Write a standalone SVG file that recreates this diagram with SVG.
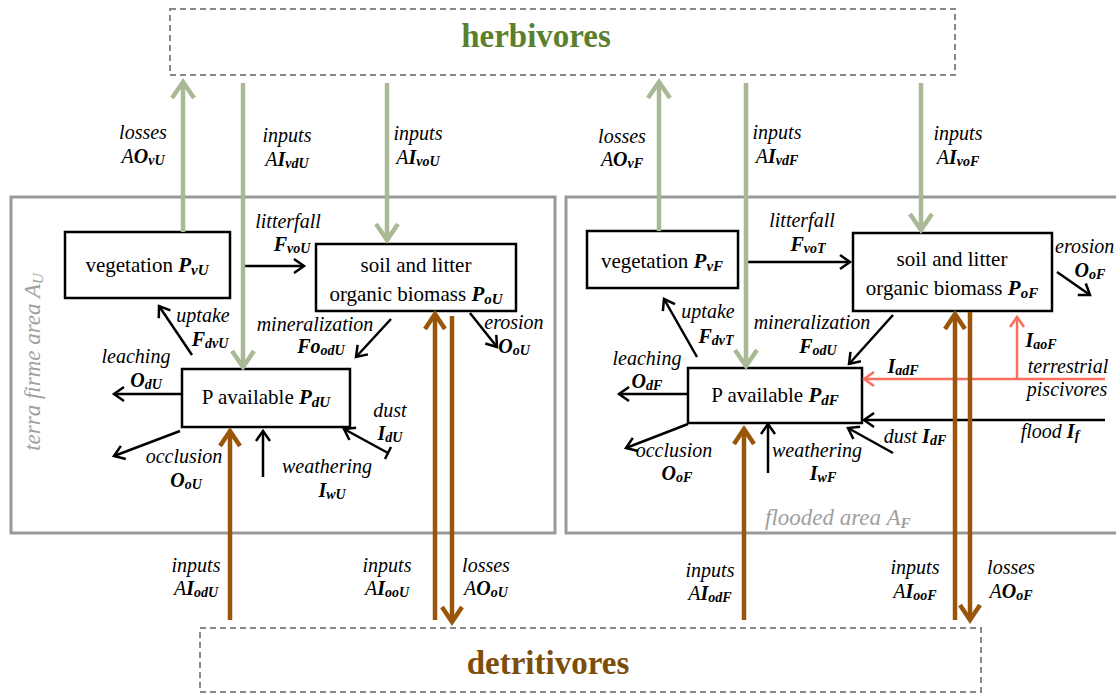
<svg xmlns="http://www.w3.org/2000/svg" width="1116" height="695" viewBox="0 0 1116 695">
<style>
.lb{font-family:Liberation Serif,serif;font-size:20px;font-style:italic;fill:#000}
.b{font-weight:bold}
.s{font-size:14px;font-weight:bold}
.nt{font-family:Liberation Serif,serif;font-size:21px;fill:#000}
.nb{font-weight:bold;font-style:italic}
.ns{font-size:15px;font-weight:bold;font-style:italic}
.bx{fill:#fff;stroke:#000;stroke-width:2.5}
.pn{fill:none;stroke:#999;stroke-width:3}
.ds{fill:none;stroke:#888;stroke-width:2;stroke-dasharray:6 4}
.gl{stroke:#a9b996;stroke-width:4.5;fill:none}
.br{stroke:#99550a;stroke-width:4.5;fill:none}
.bk{stroke:#000;stroke-width:2.5;fill:none}
.rd{stroke:#fa6e5c;stroke-width:2.5;fill:none}
.gy{font-family:Liberation Serif,serif;font-size:23px;font-style:italic;fill:#a0a0a0}
.ti{font-family:Liberation Serif,serif;font-size:33px;font-weight:bold}
</style>
<defs>
<marker id="mg" markerUnits="userSpaceOnUse" orient="auto" overflow="visible" markerWidth="1" markerHeight="1"><path d="M-16,-11 L0,0 L-16,11" fill="none" stroke="#a9b996" stroke-width="4.5"/></marker>
<marker id="mb" markerUnits="userSpaceOnUse" orient="auto" overflow="visible" markerWidth="1" markerHeight="1"><path d="M-15,-10 L0,0 L-15,10" fill="none" stroke="#99550a" stroke-width="4.5"/></marker>
<marker id="mk" markerUnits="userSpaceOnUse" orient="auto" overflow="visible" markerWidth="1" markerHeight="1"><path d="M-10,-7 L0,0 L-10,7" fill="none" stroke="#000" stroke-width="2.5"/></marker>
<marker id="mr" markerUnits="userSpaceOnUse" orient="auto" overflow="visible" markerWidth="1" markerHeight="1"><path d="M-10,-7 L0,0 L-10,7" fill="none" stroke="#fa6e5c" stroke-width="2.5"/></marker>
</defs>
<rect width="1116" height="695" fill="#fff"/>

<g id="herbivores">
<rect class="ds" x="170" y="9" width="785" height="66"/>
<text class="ti" x="536" y="47" text-anchor="middle" fill="#5b7f2c">herbivores</text>
</g>
<g id="detritivores">
<rect class="ds" x="200" y="628" width="781" height="64"/>
<text class="ti" x="548" y="674" text-anchor="middle" fill="#7d4e0a">detritivores</text>
</g>

<g id="terra-firme">
<rect class="pn" x="11" y="197" width="544" height="336"/>
<text class="gy" transform="translate(40,362) rotate(-90)" text-anchor="middle">terra firme area  A<tspan font-size="15" dy="3">U</tspan></text>
</g>
<g id="flooded">
<rect class="pn" x="566" y="197" width="560" height="336"/>
<text class="gy" x="765" y="525">flooded area A<tspan font-size="15" font-weight="bold" dy="3">F</tspan></text>
</g>

<g id="vegetation-U">
<rect class="bx" x="65" y="232" width="165" height="66"/>
<text class="nt" x="147" y="272" text-anchor="middle">vegetation <tspan class="nb">P</tspan><tspan class="ns" dy="3">vU</tspan></text>
</g>
<g id="soil-U">
<rect class="bx" x="316" y="244" width="200" height="67"/>
<text class="nt" x="416" y="272" text-anchor="middle">soil and litter</text>
<text class="nt" x="416" y="301" text-anchor="middle">organic biomass <tspan class="nb">P</tspan><tspan class="ns" dy="3">oU</tspan></text>
</g>
<g id="available-U">
<rect class="bx" x="182" y="369" width="168" height="58"/>
<text class="nt" x="266" y="404" text-anchor="middle">P available <tspan class="nb">P</tspan><tspan class="ns" dy="3">dU</tspan></text>
</g>
<g id="vegetation-F">
<rect class="bx" x="587" y="231" width="151" height="57"/>
<text class="nt" x="662" y="268" text-anchor="middle">vegetation <tspan class="nb">P</tspan><tspan class="ns" dy="3">vF</tspan></text>
</g>
<g id="soil-F">
<rect class="bx" x="853" y="233" width="199" height="78"/>
<text class="nt" x="952" y="266" text-anchor="middle">soil and litter</text>
<text class="nt" x="952" y="295" text-anchor="middle">organic biomass <tspan class="nb">P</tspan><tspan class="ns" dy="3">oF</tspan></text>
</g>
<g id="available-F">
<rect class="bx" x="688" y="368" width="174" height="55"/>
<text class="nt" x="775" y="402" text-anchor="middle">P available <tspan class="nb">P</tspan><tspan class="ns" dy="3">dF</tspan></text>
</g>

<g id="connectors">
<line class="bk" x1="245" y1="266" x2="304" y2="266" marker-end="url(#mk)"/>
<line class="bk" x1="192" y1="355" x2="159" y2="306" marker-end="url(#mk)"/>
<line class="bk" x1="391" y1="319" x2="356" y2="357" marker-end="url(#mk)"/>
<line class="bk" x1="470" y1="313" x2="497" y2="347" marker-end="url(#mk)"/>
<line class="bk" x1="182" y1="394" x2="114" y2="394" marker-end="url(#mk)"/>
<line class="bk" x1="180" y1="431" x2="114" y2="456" marker-end="url(#mk)"/>
<line class="bk" x1="263" y1="477" x2="263" y2="431" marker-end="url(#mk)"/>
<line class="bk" x1="388" y1="453" x2="344" y2="429" marker-end="url(#mk)"/>
<line class="bk" x1="385" y1="459" x2="391" y2="447"/>
<line class="bk" x1="746" y1="262" x2="850" y2="262" marker-end="url(#mk)"/>
<line class="bk" x1="697" y1="357" x2="664" y2="299" marker-end="url(#mk)"/>
<line class="bk" x1="893" y1="315" x2="849" y2="364" marker-end="url(#mk)"/>
<line class="bk" x1="1057" y1="272" x2="1090" y2="295" marker-end="url(#mk)"/>
<line class="bk" x1="688" y1="394" x2="619" y2="394" marker-end="url(#mk)"/>
<line class="bk" x1="688" y1="424" x2="626" y2="448" marker-end="url(#mk)"/>
<line class="bk" x1="768" y1="473" x2="768" y2="424" marker-end="url(#mk)"/>
<line class="bk" x1="893" y1="453" x2="848" y2="428" marker-end="url(#mk)"/>
<line class="bk" x1="1105" y1="420" x2="864" y2="420" marker-end="url(#mk)"/>
<line class="rd" x1="1105" y1="379" x2="864" y2="379" marker-end="url(#mr)"/>
<line class="rd" x1="1017" y1="379" x2="1017" y2="317" marker-end="url(#mr)"/>

<line class="gl" x1="183" y1="232" x2="183" y2="82" marker-end="url(#mg)"/>
<line class="gl" x1="243" y1="83" x2="243" y2="367" marker-end="url(#mg)"/>
<line class="gl" x1="387" y1="83" x2="387" y2="240" marker-end="url(#mg)"/>
<line class="gl" x1="659" y1="231" x2="659" y2="82" marker-end="url(#mg)"/>
<line class="gl" x1="746" y1="83" x2="746" y2="366" marker-end="url(#mg)"/>
<line class="gl" x1="921" y1="83" x2="921" y2="230" marker-end="url(#mg)"/>

<line class="br" x1="230" y1="620" x2="230" y2="431" marker-end="url(#mb)"/>
<line class="br" x1="435" y1="620" x2="435" y2="314" marker-end="url(#mb)"/>
<line class="br" x1="452" y1="316" x2="452" y2="622" marker-end="url(#mb)"/>
<line class="br" x1="744" y1="620" x2="744" y2="429" marker-end="url(#mb)"/>
<line class="br" x1="955" y1="620" x2="955" y2="314" marker-end="url(#mb)"/>
<line class="br" x1="970" y1="312" x2="970" y2="620" marker-end="url(#mb)"/>
</g>

<g id="labels">
<text class="lb" x="143" y="139" text-anchor="middle">losses</text>
<text class="lb" x="143" y="163" text-anchor="middle">A<tspan class="b">O</tspan><tspan class="s" dy="2">vU</tspan></text>
<text class="lb" x="287" y="142" text-anchor="middle">inputs</text>
<text class="lb" x="287" y="166" text-anchor="middle">A<tspan class="b">I</tspan><tspan class="s" dy="2">vdU</tspan></text>
<text class="lb" x="418" y="140" text-anchor="middle">inputs</text>
<text class="lb" x="418" y="164" text-anchor="middle">A<tspan class="b">I</tspan><tspan class="s" dy="2">voU</tspan></text>
<text class="lb" x="622" y="143" text-anchor="middle">losses</text>
<text class="lb" x="622" y="166" text-anchor="middle">A<tspan class="b">O</tspan><tspan class="s" dy="2">vF</tspan></text>
<text class="lb" x="777" y="139" text-anchor="middle">inputs</text>
<text class="lb" x="777" y="163" text-anchor="middle">A<tspan class="b">I</tspan><tspan class="s" dy="2">vdF</tspan></text>
<text class="lb" x="958" y="140" text-anchor="middle">inputs</text>
<text class="lb" x="958" y="164" text-anchor="middle">A<tspan class="b">I</tspan><tspan class="s" dy="2">voF</tspan></text>

<text class="lb" x="288" y="228" text-anchor="middle">litterfall</text>
<text class="lb" x="292" y="251" text-anchor="middle"><tspan class="b">F</tspan><tspan class="s" dy="2">voU</tspan></text>
<text class="lb" x="203" y="322" text-anchor="middle">uptake</text>
<text class="lb" x="210" y="346" text-anchor="middle"><tspan class="b">F</tspan><tspan class="s" dy="2">dvU</tspan></text>
<text class="lb" x="315" y="331" text-anchor="middle">mineralization</text>
<text class="lb" x="321" y="353" text-anchor="middle"><tspan class="b">Fo</tspan><tspan class="s" dy="2">odU</tspan></text>
<text class="lb" x="514" y="329" text-anchor="middle">erosion</text>
<text class="lb" x="514" y="353" text-anchor="middle"><tspan class="b">O</tspan><tspan class="s" dy="2">oU</tspan></text>
<text class="lb" x="136" y="363" text-anchor="middle">leaching</text>
<text class="lb" x="146" y="387" text-anchor="middle"><tspan class="b">O</tspan><tspan class="s" dy="2">dU</tspan></text>
<text class="lb" x="184" y="463" text-anchor="middle">occlusion</text>
<text class="lb" x="186" y="487" text-anchor="middle"><tspan class="b">O</tspan><tspan class="s" dy="2">oU</tspan></text>
<text class="lb" x="327" y="473" text-anchor="middle">weathering</text>
<text class="lb" x="332" y="497" text-anchor="middle"><tspan class="b">I</tspan><tspan class="s" dy="2">wU</tspan></text>
<text class="lb" x="390" y="417" text-anchor="middle">dust</text>
<text class="lb" x="390" y="440" text-anchor="middle"><tspan class="b">I</tspan><tspan class="s" dy="2">dU</tspan></text>

<text class="lb" x="802" y="227" text-anchor="middle">litterfall</text>
<text class="lb" x="808" y="251" text-anchor="middle"><tspan class="b">F</tspan><tspan class="s" dy="2">voT</tspan></text>
<text class="lb" x="708" y="318" text-anchor="middle">uptake</text>
<text class="lb" x="716" y="343" text-anchor="middle"><tspan class="b">F</tspan><tspan class="s" dy="2">dvT</tspan></text>
<text class="lb" x="812" y="329" text-anchor="middle">mineralization</text>
<text class="lb" x="818" y="353" text-anchor="middle"><tspan class="b">F</tspan><tspan class="s" dy="2">odU</tspan></text>
<text class="lb" x="1055" y="253">erosion</text>
<text class="lb" x="1090" y="277" text-anchor="middle"><tspan class="b">O</tspan><tspan class="s" dy="2">oF</tspan></text>
<text class="lb" x="647" y="365" text-anchor="middle">leaching</text>
<text class="lb" x="647" y="388" text-anchor="middle"><tspan class="b">O</tspan><tspan class="s" dy="2">dF</tspan></text>
<text class="lb" x="674" y="457" text-anchor="middle">occlusion</text>
<text class="lb" x="677" y="480" text-anchor="middle"><tspan class="b">O</tspan><tspan class="s" dy="2">oF</tspan></text>
<text class="lb" x="772" y="457">weathering</text>
<text class="lb" x="823" y="480" text-anchor="middle"><tspan class="b">I</tspan><tspan class="s" dy="2">wF</tspan></text>
<text class="lb" x="915" y="443" text-anchor="middle">dust <tspan class="b">I</tspan><tspan class="s" dy="2">dF</tspan></text>
<text class="lb" x="1050" y="438" text-anchor="middle">flood <tspan class="b">I</tspan><tspan class="s" dy="2">f</tspan></text>
<text class="lb" x="903" y="373" text-anchor="middle"><tspan class="b">I</tspan><tspan class="s" dy="2">adF</tspan></text>
<text class="lb" x="1041" y="347" text-anchor="middle"><tspan class="b">I</tspan><tspan class="s" dy="2">aoF</tspan></text>
<text class="lb" x="1068" y="373" text-anchor="middle">terrestrial</text>
<text class="lb" x="1067" y="396" text-anchor="middle">piscivores</text>

<text class="lb" x="196" y="572" text-anchor="middle">inputs</text>
<text class="lb" x="196" y="595" text-anchor="middle">A<tspan class="b">I</tspan><tspan class="s" dy="2">odU</tspan></text>
<text class="lb" x="387" y="572" text-anchor="middle">inputs</text>
<text class="lb" x="387" y="595" text-anchor="middle">A<tspan class="b">I</tspan><tspan class="s" dy="2">ooU</tspan></text>
<text class="lb" x="486" y="572" text-anchor="middle">losses</text>
<text class="lb" x="486" y="595" text-anchor="middle">A<tspan class="b">O</tspan><tspan class="s" dy="2">oU</tspan></text>
<text class="lb" x="710" y="577" text-anchor="middle">inputs</text>
<text class="lb" x="710" y="600" text-anchor="middle">A<tspan class="b">I</tspan><tspan class="s" dy="2">odF</tspan></text>
<text class="lb" x="915" y="574" text-anchor="middle">inputs</text>
<text class="lb" x="915" y="598" text-anchor="middle">A<tspan class="b">I</tspan><tspan class="s" dy="2">ooF</tspan></text>
<text class="lb" x="1011" y="574" text-anchor="middle">losses</text>
<text class="lb" x="1011" y="598" text-anchor="middle">A<tspan class="b">O</tspan><tspan class="s" dy="2">oF</tspan></text>
</g>
</svg>
